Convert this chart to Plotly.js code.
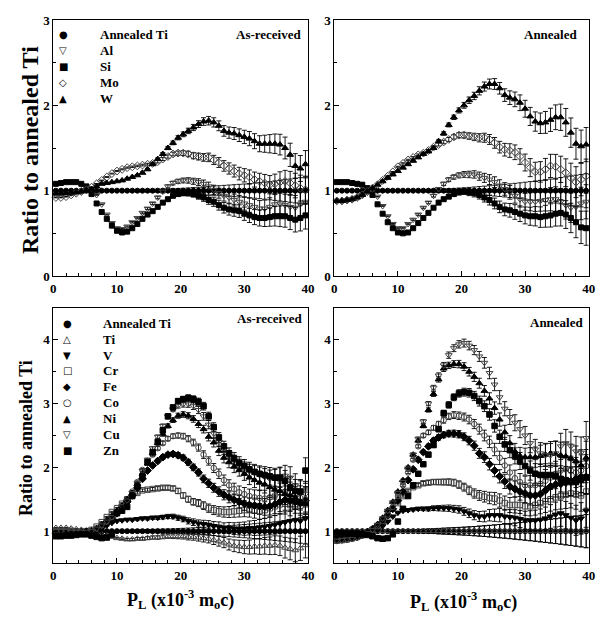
<!DOCTYPE html>
<html><head><meta charset="utf-8">
<script src="https://cdn.plot.ly/plotly-3.0.1.min.js"></script>
<style>html,body{margin:0;padding:0;background:#fff;}#chart{width:609px;height:621px;}</style>
</head><body><div id="chart"></div>
<script>
// ---------- data ----------
const P_L = [0.4,1.2,2.0,2.8,3.6,4.4,5.2,6.0,6.8,7.6, 8.4,9.2,10.0,10.8,11.6,12.4,13.2,14.0,14.8,15.6,
  16.4,17.2,18.0,18.8,19.6,20.4,21.2,22.0,22.8,23.6, 24.4,25.2,26.0,26.8,27.6,28.4,29.2,30.0,30.8,31.6,
  32.4,33.2,34.0,34.8,35.6,36.4,37.2,38.0,38.8,39.6];
const X_TICKS = [0,10,20,30,40];
const Y_TICKS_TOP = [0,1,2,3];
const Y_TICKS_BOTTOM = [1,2,3,4];
const SERIES_TOP = ['Annealed Ti','Al','Si','Mo','W'];
const SERIES_BOTTOM = ['Annealed Ti','Ti','V','Cr','Fe','Co','Ni','Cu','Zn'];

const ANNEALED_TI = [1,1,1,1,1,1,1,1,1,1, 1,1,1,1,1,1,1,1,1,1, 1,1,1,1,1,1,1,1,1,1, 1,1,1,1,1,1,1,1,1,1, 1,1,1,1,1,1,1,1,1,1];

// Top row, as-received
const AL_AR = [0.95,0.95,0.96,0.97,0.98,0.99,1.0,1.0,0.95,0.84, 0.72,0.62,0.56,0.55,0.58,0.63,0.68,0.74,0.79,0.85,
  0.92,0.99,1.05,1.09,1.11,1.12,1.12,1.11,1.1,1.08, 1.05,1.01,0.97,0.94,0.92,0.89,0.87,0.85,0.83,0.81,
  0.79,0.79,0.81,0.84,0.85,0.83,0.81,0.8,0.84,0.87];
const SI_AR = [1.08,1.09,1.1,1.1,1.1,1.08,1.05,0.96,0.85,0.75, 0.67,0.59,0.53,0.51,0.52,0.56,0.61,0.67,0.72,0.76,
  0.81,0.86,0.9,0.94,0.96,0.97,0.97,0.96,0.94,0.92, 0.89,0.87,0.83,0.8,0.78,0.77,0.76,0.73,0.71,0.69,
  0.68,0.68,0.69,0.7,0.7,0.7,0.68,0.66,0.68,0.71];
const MO_AR = [0.92,0.92,0.93,0.95,0.97,0.99,1.01,1.04,1.08,1.12, 1.16,1.2,1.23,1.25,1.27,1.28,1.29,1.3,1.31,1.32,
  1.34,1.37,1.4,1.43,1.44,1.44,1.43,1.41,1.4,1.39, 1.39,1.36,1.33,1.29,1.26,1.23,1.2,1.18,1.16,1.13,
  1.11,1.09,1.07,1.08,1.1,1.11,1.09,1.06,1.03,1.01];
const W_AR = [0.97,0.97,0.97,0.98,0.98,0.99,1.0,1.02,1.05,1.08, 1.09,1.1,1.11,1.12,1.14,1.16,1.18,1.21,1.25,1.31,
  1.37,1.43,1.5,1.56,1.62,1.66,1.7,1.74,1.78,1.81, 1.82,1.8,1.76,1.7,1.68,1.67,1.65,1.63,1.61,1.58,
  1.55,1.55,1.55,1.55,1.54,1.5,1.42,1.29,1.26,1.31];
const ERR_TOP_AR = [0.004,0.004,0.004,0.004,0.004,0.004,0.004,0.004,0.004,0.004,
  0.005,0.005,0.006,0.006,0.007,0.008,0.009,0.01,0.011,0.013, 0.015,0.017,0.019,0.022,0.025,0.028,0.032,0.036,0.04,0.045,
  0.05,0.054,0.058,0.062,0.066,0.07,0.074,0.078,0.083,0.088, 0.094,0.1,0.107,0.114,0.121,0.128,0.136,0.144,0.152,0.16];

// Top row, annealed
const AL_AN = [0.88,0.88,0.89,0.9,0.92,0.95,0.98,1.0,0.93,0.82, 0.7,0.61,0.56,0.56,0.61,0.66,0.72,0.8,0.86,0.94,
  1.02,1.08,1.13,1.16,1.18,1.19,1.19,1.19,1.17,1.15, 1.13,1.1,1.06,1.02,0.98,0.94,0.9,0.87,0.87,0.87,
  0.88,0.89,0.9,0.9,0.87,0.83,0.8,0.81,0.85,0.87];
const SI_AN = [1.1,1.1,1.1,1.09,1.08,1.07,1.03,0.95,0.84,0.73, 0.63,0.56,0.51,0.5,0.51,0.56,0.62,0.68,0.74,0.8,
  0.86,0.9,0.93,0.96,0.98,0.99,0.98,0.97,0.95,0.92, 0.89,0.85,0.81,0.78,0.77,0.75,0.73,0.71,0.7,0.7,
  0.69,0.7,0.71,0.73,0.74,0.72,0.68,0.63,0.57,0.56];
const MO_AN = [0.88,0.88,0.89,0.9,0.92,0.95,0.99,1.03,1.07,1.12, 1.17,1.22,1.28,1.32,1.36,1.39,1.42,1.44,1.47,1.51,
  1.54,1.57,1.6,1.63,1.65,1.65,1.64,1.63,1.62,1.62, 1.6,1.56,1.51,1.48,1.47,1.45,1.4,1.33,1.27,1.22,
  1.22,1.25,1.29,1.28,1.25,1.21,1.15,1.1,1.13,1.17];
const W_AN = [0.88,0.88,0.89,0.9,0.92,0.95,0.99,1.03,1.07,1.11, 1.15,1.19,1.23,1.27,1.31,1.35,1.39,1.43,1.46,1.5,
  1.58,1.67,1.77,1.86,1.94,2.0,2.06,2.11,2.17,2.22, 2.25,2.25,2.2,2.12,2.09,2.07,2.03,1.96,1.87,1.81,
  1.79,1.8,1.83,1.86,1.86,1.8,1.68,1.55,1.52,1.54];
const ERR_TOP_AN = [0.004,0.004,0.004,0.004,0.004,0.004,0.004,0.004,0.004,0.004,
  0.005,0.005,0.006,0.007,0.008,0.009,0.01,0.011,0.013,0.015, 0.017,0.02,0.023,0.026,0.03,0.034,0.038,0.043,0.048,0.053,
  0.058,0.063,0.068,0.074,0.08,0.086,0.092,0.099,0.106,0.113, 0.12,0.128,0.136,0.145,0.154,0.163,0.172,0.181,0.19,0.2];

// Bottom row, as-received
const TI_AR = [1.05,1.05,1.05,1.04,1.03,1.02,1.0,0.99,0.97,0.95, 0.93,0.91,0.89,0.88,0.87,0.87,0.88,0.88,0.89,0.9,
  0.9,0.91,0.92,0.92,0.92,0.92,0.91,0.91,0.9,0.89, 0.88,0.86,0.84,0.82,0.79,0.77,0.76,0.75,0.75,0.76,
  0.76,0.77,0.77,0.78,0.77,0.74,0.72,0.7,0.73,0.78];
const V_AR = [0.95,0.95,0.95,0.96,0.96,0.97,0.97,0.98,1.0,1.04, 1.09,1.13,1.16,1.17,1.18,1.18,1.19,1.2,1.2,1.21,
  1.21,1.22,1.23,1.23,1.21,1.19,1.16,1.14,1.12,1.11, 1.1,1.08,1.07,1.05,1.05,1.04,1.04,1.04,1.05,1.05,
  1.06,1.07,1.08,1.1,1.12,1.14,1.16,1.17,1.16,1.2];
const CR_AR = [1.0,1.0,1.0,1.0,0.99,0.99,1.0,1.02,1.07,1.14, 1.22,1.3,1.36,1.43,1.5,1.56,1.6,1.64,1.65,1.66,
  1.67,1.68,1.68,1.67,1.63,1.56,1.5,1.46,1.44,1.4, 1.36,1.33,1.31,1.3,1.3,1.31,1.32,1.33,1.33,1.32,
  1.31,1.33,1.36,1.39,1.42,1.43,1.41,1.38,1.4,1.46];
const FE_AR = [0.97,0.97,0.97,0.97,0.97,0.98,0.99,1.0,1.03,1.07, 1.13,1.2,1.28,1.37,1.46,1.56,1.68,1.82,1.95,2.03,
  2.1,2.16,2.2,2.21,2.19,2.15,2.08,2.0,1.92,1.82, 1.75,1.68,1.62,1.57,1.53,1.49,1.46,1.43,1.41,1.4,
  1.39,1.38,1.39,1.42,1.46,1.49,1.48,1.46,1.44,1.48];
const CO_AR = [1.0,1.0,0.99,0.99,0.98,0.98,0.98,1.0,1.04,1.09, 1.15,1.22,1.3,1.4,1.5,1.62,1.77,1.96,2.1,2.2,
  2.3,2.38,2.45,2.49,2.5,2.49,2.45,2.39,2.31,2.2, 2.1,1.99,1.9,1.8,1.72,1.66,1.61,1.58,1.55,1.53,
  1.52,1.51,1.53,1.56,1.6,1.62,1.6,1.56,1.52,1.5];
const NI_AR = [0.97,0.97,0.97,0.97,0.97,0.97,0.98,1.0,1.04,1.1, 1.17,1.24,1.32,1.4,1.5,1.6,1.74,1.9,2.06,2.22,
  2.38,2.52,2.65,2.74,2.81,2.83,2.81,2.76,2.68,2.6, 2.48,2.39,2.26,2.15,2.08,2.01,1.96,1.9,1.84,1.8,
  1.76,1.73,1.69,1.65,1.63,1.58,1.56,1.52,1.47,1.43];
const CU_AR = [1.0,1.0,1.0,0.99,0.99,0.98,0.98,1.0,1.04,1.09, 1.15,1.22,1.3,1.39,1.48,1.6,1.75,1.95,2.12,2.3,
  2.48,2.65,2.8,2.91,2.97,2.99,2.99,2.96,2.9,2.8, 2.67,2.53,2.4,2.28,2.18,2.1,2.03,1.98,1.94,1.91,
  1.88,1.85,1.82,1.82,1.85,1.87,1.84,1.72,1.6,1.58];
const ZN_AR = [0.92,0.92,0.93,0.93,0.94,0.95,0.95,0.93,0.91,0.89, 0.9,0.95,1.28,1.32,1.38,1.55,1.7,1.86,2.08,2.24,
  2.4,2.58,2.8,2.94,3.04,3.07,3.09,3.07,3.03,2.96, 2.8,2.63,2.47,2.33,2.22,2.14,2.07,2.02,1.97,1.93,
  1.9,1.88,1.86,1.84,1.84,1.79,1.68,1.63,1.62,1.95];
const ERR_BOTTOM_AR = [0.008,0.008,0.008,0.008,0.008,0.008,0.008,0.008,0.008,0.008,
  0.01,0.011,0.012,0.013,0.015,0.017,0.019,0.021,0.023,0.025, 0.028,0.03,0.033,0.036,0.04,0.044,0.048,0.052,0.056,0.06,
  0.065,0.07,0.075,0.08,0.086,0.092,0.098,0.104,0.11,0.117, 0.124,0.131,0.138,0.146,0.154,0.162,0.17,0.18,0.19,0.2];

// Bottom row, annealed
const TI_AN = [1,1,1,1,1,1,1,1,1,1, 1,1,1,1,1,1,1,1,1,1, 1,1,1,1,1,1,1,1,1,1, 1,1,1,1,1,1,1,1,1,1, 1,1,1,1,1,1,1,1,1,1];
const V_AN = [0.9,0.9,0.91,0.92,0.93,0.95,0.97,0.99,1.02,1.08, 1.15,1.23,1.29,1.32,1.33,1.34,1.35,1.35,1.35,1.36,
  1.36,1.36,1.36,1.35,1.34,1.31,1.28,1.25,1.23,1.23, 1.25,1.25,1.25,1.23,1.22,1.21,1.19,1.17,1.17,1.17,
  1.18,1.2,1.23,1.26,1.28,1.25,1.21,1.17,1.2,1.32];
const CR_AN = [0.85,0.86,0.87,0.89,0.91,0.94,0.98,1.02,1.08,1.15, 1.25,1.35,1.44,1.55,1.63,1.69,1.72,1.75,1.76,1.77,
  1.77,1.77,1.77,1.76,1.73,1.69,1.64,1.59,1.56,1.54, 1.52,1.51,1.48,1.44,1.41,1.41,1.41,1.39,1.39,1.41,
  1.44,1.47,1.5,1.53,1.55,1.57,1.59,1.58,1.56,1.62];
const FE_AN = [0.86,0.87,0.88,0.89,0.91,0.94,0.98,1.03,1.09,1.15, 1.25,1.35,1.48,1.62,1.8,1.97,2.12,2.24,2.33,2.42,
  2.47,2.51,2.53,2.53,2.52,2.48,2.42,2.34,2.22,2.16, 2.05,1.95,1.86,1.78,1.7,1.66,1.62,1.59,1.56,1.56,
  1.58,1.64,1.7,1.73,1.74,1.76,1.78,1.82,1.85,1.85];
const CO_AN = [0.85,0.86,0.87,0.88,0.9,0.93,0.97,1.02,1.08,1.16, 1.26,1.38,1.55,1.72,1.92,2.12,2.33,2.5,2.55,2.62,
  2.68,2.74,2.8,2.82,2.81,2.79,2.75,2.68,2.6,2.5, 2.4,2.28,2.15,2.03,1.92,1.83,1.77,1.72,1.72,1.72,
  1.74,1.79,1.84,1.9,1.95,1.97,1.95,1.92,1.95,2.02];
const NI_AN = [0.86,0.87,0.88,0.89,0.91,0.94,0.98,1.03,1.11,1.21, 1.33,1.46,1.62,1.8,2.0,2.2,2.42,2.65,2.9,3.15,
  3.38,3.55,3.6,3.62,3.62,3.58,3.5,3.42,3.32,3.2, 3.08,2.93,2.75,2.55,2.38,2.25,2.18,2.16,2.16,2.16,
  2.18,2.2,2.22,2.21,2.19,2.17,2.14,2.1,2.03,2.15];
const CU_AN = [0.85,0.86,0.87,0.88,0.9,0.93,0.97,1.02,1.1,1.2, 1.32,1.45,1.6,1.77,1.98,2.2,2.45,2.72,3.0,3.25,
  3.44,3.6,3.76,3.87,3.93,3.95,3.91,3.84,3.74,3.64, 3.48,3.3,3.1,2.92,2.79,2.7,2.6,2.5,2.38,2.28,
  2.22,2.19,2.19,2.22,2.33,2.38,2.33,2.25,2.23,2.46];
const ZN_AN = [0.97,0.97,0.96,0.96,0.96,0.95,0.94,0.92,0.89,0.88, 0.89,0.95,1.15,1.35,1.55,1.72,1.9,2.05,2.2,2.35,
  2.6,2.85,2.98,3.1,3.16,3.18,3.17,3.12,3.04,2.96, 2.83,2.65,2.48,2.36,2.27,2.18,2.1,2.02,1.95,1.9,
  1.88,1.88,1.88,1.86,1.82,1.8,1.78,1.77,1.8,1.84];
const ERR_BOTTOM_AN = [0.008,0.008,0.008,0.008,0.008,0.008,0.008,0.008,0.008,0.008,
  0.01,0.012,0.014,0.016,0.019,0.022,0.025,0.029,0.033,0.037, 0.042,0.046,0.05,0.054,0.058,0.062,0.067,0.072,0.078,0.084,
  0.09,0.097,0.104,0.111,0.118,0.126,0.134,0.142,0.15,0.159, 0.168,0.177,0.186,0.195,0.205,0.215,0.225,0.236,0.247,0.26];

// ---------- styling ----------
const W = 609, H = 621;
const SERIF = 'Liberation Serif, Times New Roman, serif';
const OPEN_COLOR = '#444';
const STYLE = {
  'Annealed Ti': {symbol:'circle', size:5, glyph:'\u25CF'},
  'Al': {symbol:'triangle-down-open', size:6, glyph:'\u25BD'},
  'Si': {symbol:'square', size:5, glyph:'\u25A0'},
  'Mo': {symbol:'diamond-open', size:6, glyph:'\u25C7'},
  'W':  {symbol:'triangle-up', size:6, glyph:'\u25B2'},
  'Ti': {symbol:'triangle-up-open', size:6, glyph:'\u25B3'},
  'V':  {symbol:'triangle-down', size:6, glyph:'\u25BC'},
  'Cr': {symbol:'square-open', size:5.5, glyph:'\u25A1'},
  'Fe': {symbol:'diamond', size:6, glyph:'\u25C6'},
  'Co': {symbol:'circle-open', size:5.5, glyph:'\u25CB'},
  'Ni': {symbol:'triangle-up', size:6, glyph:'\u25B2'},
  'Cu': {symbol:'triangle-down-open', size:6, glyph:'\u25BD'},
  'Zn': {symbol:'square', size:5.5, glyph:'\u25A0'}
};

function trace(name, y, err, xa, ya) {
  const s = STYLE[name];
  const open = s.symbol.indexOf('open') >= 0;
  return {
    type:'scatter', mode:'markers', x:P_L, y:y, xaxis:xa, yaxis:ya, name:name, showlegend:false,
    cliponaxis:false,
    marker:{symbol:s.symbol, size:s.size, color: open ? OPEN_COLOR : '#000', line:{width:1, color: open ? OPEN_COLOR : '#000'}},
    error_y:{type:'data', array:err, visible:true, color:'#000', thickness:0.9, width:2.5}
  };
}

const data = [];
const topAR = {'Annealed Ti':ANNEALED_TI, 'Al':AL_AR, 'Si':SI_AR, 'Mo':MO_AR, 'W':W_AR};
const topAN = {'Annealed Ti':ANNEALED_TI, 'Al':AL_AN, 'Si':SI_AN, 'Mo':MO_AN, 'W':W_AN};
const botAR = {'Annealed Ti':ANNEALED_TI, 'Ti':TI_AR, 'V':V_AR, 'Cr':CR_AR, 'Fe':FE_AR, 'Co':CO_AR, 'Ni':NI_AR, 'Cu':CU_AR, 'Zn':ZN_AR};
const botAN = {'Annealed Ti':ANNEALED_TI, 'Ti':TI_AN, 'V':V_AN, 'Cr':CR_AN, 'Fe':FE_AN, 'Co':CO_AN, 'Ni':NI_AN, 'Cu':CU_AN, 'Zn':ZN_AN};
SERIES_TOP.forEach(n => data.push(trace(n, topAR[n], ERR_TOP_AR, 'x', 'y')));
SERIES_TOP.forEach(n => data.push(trace(n, topAN[n], ERR_TOP_AN, 'x2', 'y2')));
SERIES_BOTTOM.forEach(n => data.push(trace(n, botAR[n], ERR_BOTTOM_AR, 'x3', 'y3')));
SERIES_BOTTOM.forEach(n => data.push(trace(n, botAN[n], ERR_BOTTOM_AN, 'x4', 'y4')));

const tickFont = {family:SERIF, size:13, color:'#000', weight:'bold'};
function xAxis(domain, anchor) {
  return {domain:domain, anchor:anchor, range:[0,40], tickvals:X_TICKS, ticktext:X_TICKS.map(String),
    ticks:'inside', ticklen:5, tickwidth:1, tickcolor:'#000',
    minor:{dtick:2, ticks:'inside', ticklen:3, tickwidth:1, tickcolor:'#000'},
    showline:true, linecolor:'#000', linewidth:1, mirror:true, showgrid:false, zeroline:false,
    tickfont:tickFont, fixedrange:true};
}
function yAxis(domain, anchor, range, tv) {
  return {domain:domain, anchor:anchor, range:range, tickvals:tv, ticktext:tv.map(String),
    ticks:'inside', ticklen:5, tickwidth:1, tickcolor:'#000',
    minor:{dtick:0.5, tick0:0, ticks:'inside', ticklen:3, tickwidth:1, tickcolor:'#000'},
    showline:true, linecolor:'#000', linewidth:1, mirror:true, showgrid:false, zeroline:false,
    tickfont:tickFont, fixedrange:true};
}
const XL = [53.3/W, 308/W], XR = [334.3/W, 588.7/W];
const YT = [1-276/H, 1-20/H], YB = [1-563/H, 1-308/H];

const ann = [];
function A(text, px, py, o) {
  o = o || {};
  ann.push(Object.assign({text:text, x:px/W, y:1-py/H, xref:'paper', yref:'paper', showarrow:false,
    xanchor:o.xanchor||'left', yanchor:'middle',
    font:{family:o.family||SERIF, size:o.size||13, color:'#000', weight:o.weight||'bold'}}, o.extra||{}));
}
// legends
SERIES_TOP.forEach((n,k) => {
  A(STYLE[n].glyph, 63, 34+16.2*k, {xanchor:'center', family:'DejaVu Sans', size:10, weight:'normal'});
  A(n, 98, 34+16.2*k);
});
SERIES_BOTTOM.forEach((n,k) => {
  A(STYLE[n].glyph, 67, 323.3+15.85*k, {xanchor:'center', family:'DejaVu Sans', size:10, weight:'normal'});
  A(n, 101, 323.3+15.85*k);
});
// panel labels
A('As-received', 304, 34, {xanchor:'right'});
A('Annealed', 580, 34, {xanchor:'right'});
A('As-received', 305, 318, {xanchor:'right'});
A('Annealed', 586, 322, {xanchor:'right'});
// axis titles
A('Ratio to annealed Ti', 30, 150, {xanchor:'center', size:24, extra:{textangle:-90}});
A('Ratio to annealed Ti', 26, 438, {xanchor:'center', size:18, extra:{textangle:-90}});
A('P<sub>L</sub> (x10<sup>-3</sup> m<sub>o</sub>c)', 180, 599, {xanchor:'center', size:18});
A('P<sub>L</sub> (x10<sup>-3</sup> m<sub>o</sub>c)', 463, 601, {xanchor:'center', size:18});

const layout = {
  width:W, height:H, margin:{l:0,r:0,t:0,b:0}, paper_bgcolor:'#fff', plot_bgcolor:'#fff',
  showlegend:false,
  xaxis:xAxis(XL,'y'), yaxis:yAxis(YT,'x',[0,3],Y_TICKS_TOP),
  xaxis2:xAxis(XR,'y2'), yaxis2:yAxis(YT,'x2',[0,3],Y_TICKS_TOP),
  xaxis3:xAxis(XL,'y3'), yaxis3:yAxis(YB,'x3',[0.5,4.5],Y_TICKS_BOTTOM),
  xaxis4:xAxis(XR,'y4'), yaxis4:yAxis(YB,'x4',[0.5,4.5],Y_TICKS_BOTTOM),
  annotations:ann
};
Plotly.newPlot('chart', data, layout, {staticPlot:true, displayModeBar:false});
</script>
</body></html>
